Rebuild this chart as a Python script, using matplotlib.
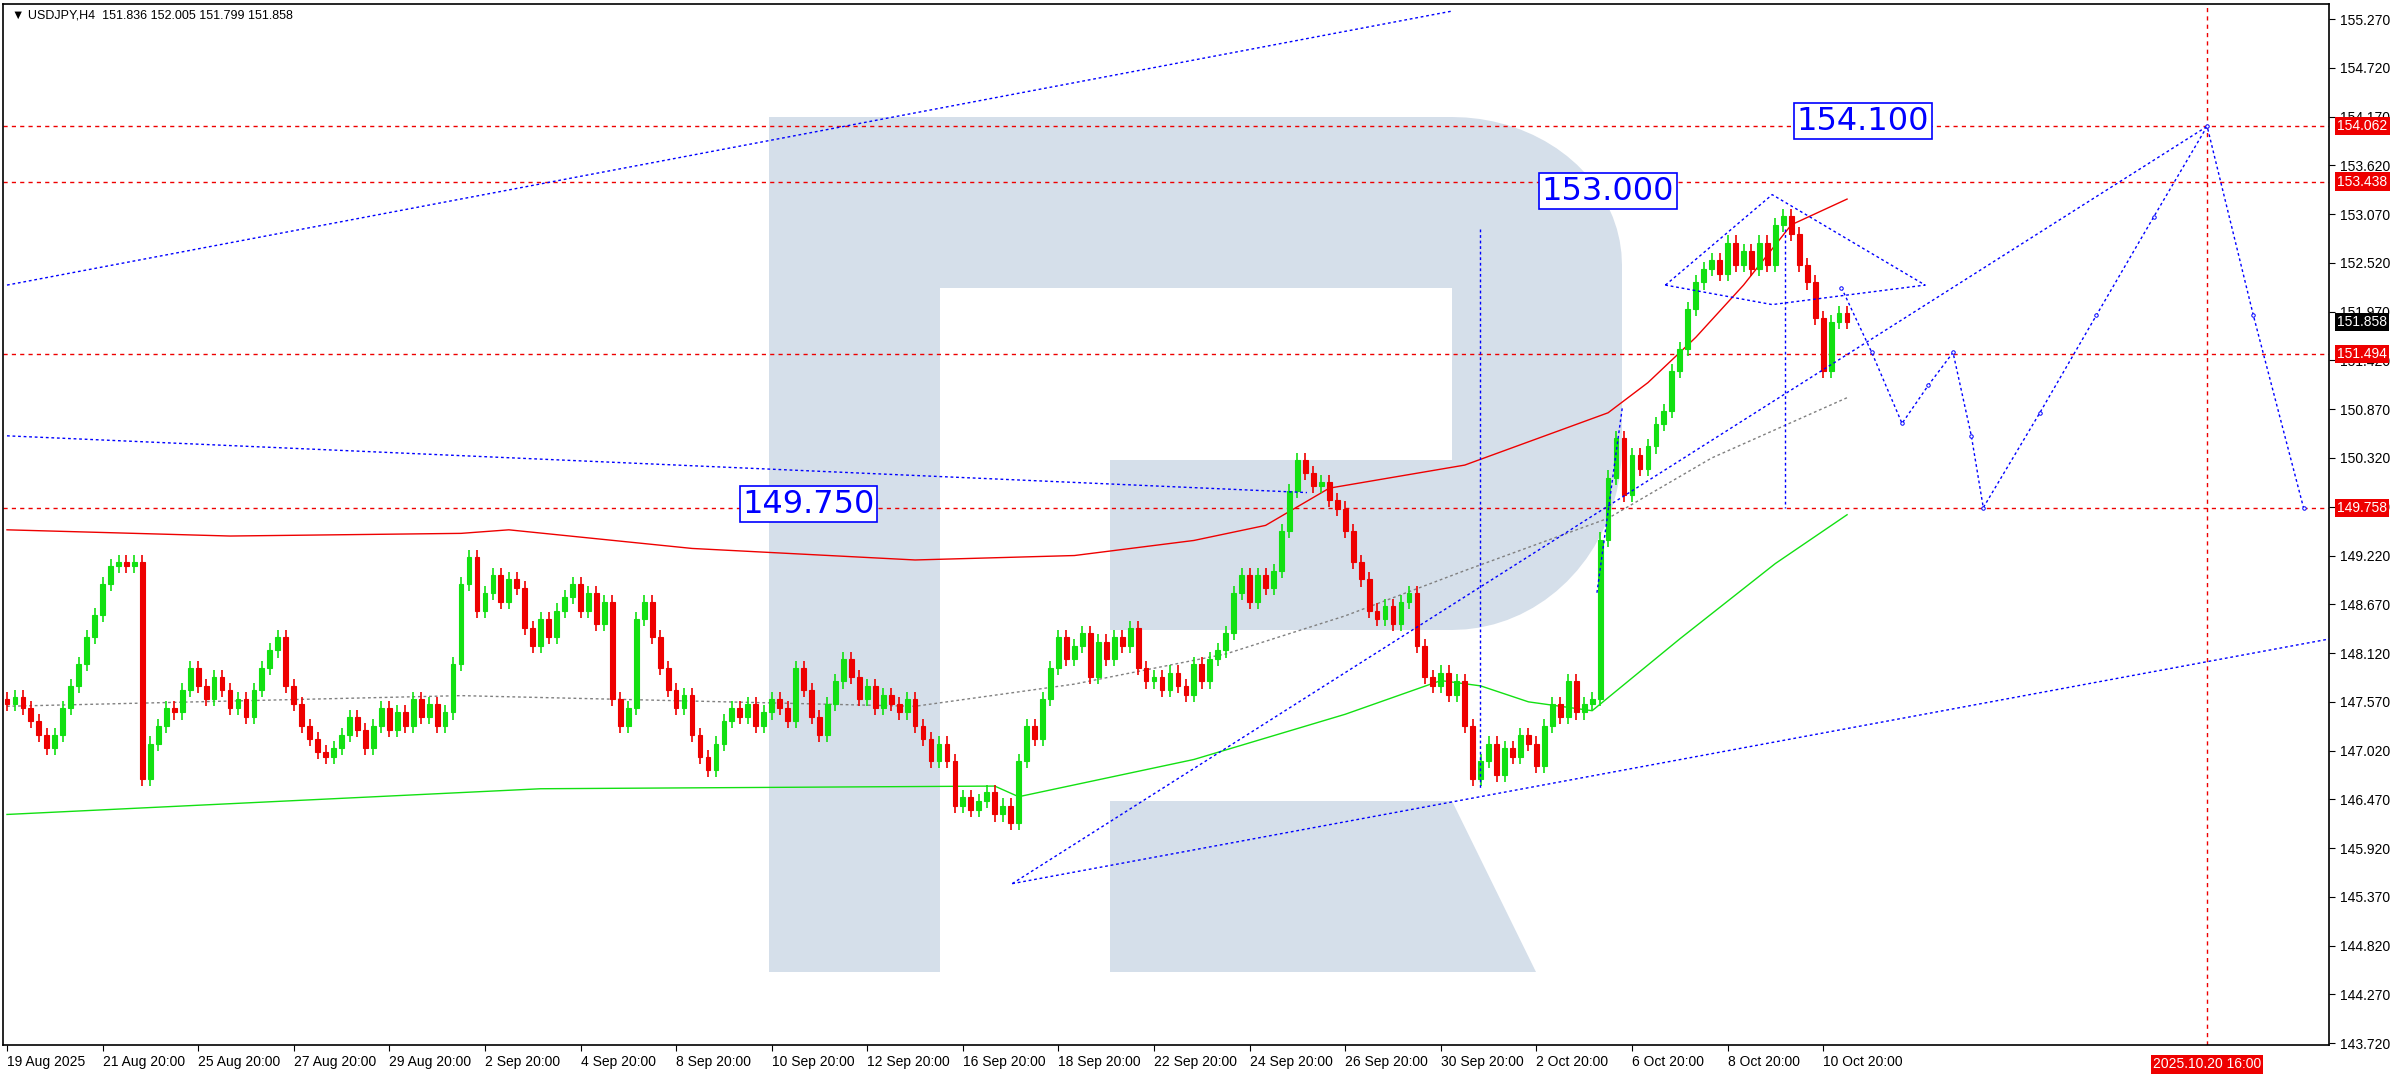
import matplotlib
import numpy as np

matplotlib.use("Agg")

from matplotlib import pyplot as plt
from matplotlib.patches import Polygon, Rectangle

# H4 closes, one per bar
CLOSES = [
    147.55, 147.62, 147.5, 147.35, 147.2, 147.05,
    147.2, 147.5, 147.75, 148.0, 148.3, 148.55,
    148.9, 149.1, 149.15, 149.1, 149.15, 146.7,
    147.1, 147.3, 147.5, 147.45, 147.7,
    147.95, 147.75, 147.6, 147.85, 147.7,
    147.5, 147.6, 147.4, 147.7, 147.95,
    148.15, 148.3, 147.75, 147.55,
    147.3, 147.15, 147.0, 146.95, 147.05,
    147.2, 147.4, 147.25, 147.05, 147.3,
    147.5, 147.25, 147.45, 147.3, 147.6,
    147.4, 147.55, 147.3, 147.45, 148.0,
    148.9, 149.2, 148.6, 148.8, 149.0,
    148.7, 148.95, 148.85, 148.4, 148.2,
    148.5, 148.3, 148.6, 148.75, 148.9,
    148.6, 148.8, 148.45, 148.7, 147.6,
    147.3, 147.5, 148.5, 148.7, 148.3,
    147.95, 147.7, 147.5, 147.65, 147.2,
    146.95, 146.8, 147.1, 147.35, 147.5,
    147.4, 147.55, 147.3, 147.45, 147.6,
    147.5, 147.35, 147.95, 147.7, 147.4,
    147.2, 147.55, 147.8, 148.05, 147.85,
    147.6, 147.75, 147.5, 147.65, 147.55,
    147.45, 147.6, 147.3, 147.15, 146.9,
    147.1, 146.9, 146.4, 146.5, 146.35,
    146.45, 146.55, 146.3, 146.4, 146.2,
    146.9, 147.3, 147.15, 147.6, 147.95,
    148.3, 148.05, 148.2, 148.35, 147.85,
    148.25, 148.05, 148.3, 148.2, 148.4,
    147.95, 147.8, 147.85, 147.7, 147.9,
    147.75, 147.65, 148.0, 147.8, 148.05,
    148.15, 148.35, 148.8, 149.0, 148.7,
    149.0, 148.85, 149.05, 149.5, 149.95,
    150.3, 150.15, 150.0, 150.05, 149.85,
    149.75, 149.5, 149.15, 148.95, 148.6,
    148.5, 148.65, 148.45, 148.7, 148.8,
    148.2, 147.85, 147.75, 147.9, 147.65,
    147.8, 147.3, 146.7, 146.9, 147.1,
    146.75, 147.05, 146.95, 147.2, 147.1,
    146.85, 147.3, 147.55, 147.4, 147.8,
    147.45, 147.55, 147.6, 149.4, 150.1,
    150.55, 149.9, 150.35, 150.2, 150.45,
    150.7, 150.85, 151.3, 151.55, 152.0,
    152.3, 152.45, 152.55, 152.4, 152.75,
    152.5, 152.65, 152.45, 152.75, 152.5,
    152.95, 153.05, 152.85, 152.5, 152.3,
    151.9, 151.3, 151.85, 151.95, 151.858,
]
FIRST_OPEN = 147.6

RED_MA_X = [0, 28, 57, 63, 86, 114, 134, 149, 158, 166, 183, 201, 206, 212, 218, 224, 231]
RED_MA_Y = [149.51, 149.44, 149.47, 149.51, 149.30, 149.17, 149.22, 149.39, 149.56, 149.98,
            150.24, 150.83, 151.17, 151.68, 152.27, 152.95, 153.24]
GREEN_MA_X = [0, 67, 124, 127, 149, 168, 180, 185, 191, 199, 210, 222, 231]
GREEN_MA_Y = [146.30, 146.59, 146.62, 146.50, 146.92, 147.43, 147.81, 147.75, 147.57, 147.47,
              148.28, 149.13, 149.68]
GREY_MA_X = [0, 57, 114, 134, 153, 168, 183, 201, 214, 231]
GREY_MA_Y = [147.52, 147.64, 147.52, 147.77, 148.11, 148.54, 149.05, 149.64, 150.32, 151.0]

LEVELS = [154.062, 153.438, 151.494, 149.758]
LAST_PRICE = 151.858
FORECAST_X = [230.3, 234.1, 237.9, 241.2, 244.3, 246.6, 248.1, 255.2, 262.3, 269.5, 276.2, 282.0, 288.3]
FORECAST_Y = [152.24, 151.51, 150.71, 151.14, 151.51, 150.57, 149.76, 150.83, 151.93, 153.04,
              154.06, 151.93, 149.76]
TARGETS = [(100.6, 149.80, "149.750"), (201.0, 153.33, "153.000"), (233.0, 154.12, "154.100")]

X_LABELS = ["19 Aug 2025", "21 Aug 20:00", "25 Aug 20:00", "27 Aug 20:00", "29 Aug 20:00",
            "2 Sep 20:00", "4 Sep 20:00", "8 Sep 20:00", "10 Sep 20:00", "12 Sep 20:00",
            "16 Sep 20:00", "18 Sep 20:00", "22 Sep 20:00", "24 Sep 20:00", "26 Sep 20:00",
            "30 Sep 20:00", "2 Oct 20:00", "6 Oct 20:00", "8 Oct 20:00", "10 Oct 20:00"]
VLINE_X = 276.2
VLINE_LABEL = "2025.10.20 16:00"

BLUE = "#0000ff"
GREEN = "#12e012"
RED = "#ee0000"
WM = "#d5dfea"
FONT = "Liberation Sans"

plt.rcParams["font.family"] = [FONT, "DejaVu Sans"]
fig = plt.figure(figsize=(23.92, 10.9), dpi=100)
ax = fig.add_axes([3 / 2392, 45 / 1090, 2326 / 2392, 1041 / 1090])
ax.patch.set_alpha(0)


# watermark "R", figure pixel coords from top-left
def fpt(x, y):
    return (x / 2392, 1 - y / 1090)


def wm(points, color):
    fig.patches.append(Polygon([fpt(*p) for p in points], closed=True, transform=fig.transFigure,
                               facecolor=color, edgecolor="none", zorder=-1))


a1 = np.linspace(np.pi / 2, 0, 20)
a2 = np.linspace(0, -np.pi / 2, 20)
arc_top = [(1452 + 170 * np.cos(a), 265 - 148 * np.sin(a)) for a in a1]
arc_bot = [(1452 + 170 * np.cos(a), 446 - 184 * np.sin(a)) for a in a2]
wm([(769, 117)] + arc_top + arc_bot + [(1110, 630), (1110, 460), (940, 460), (940, 972), (769, 972)], WM)
wm([(940, 288), (1452, 288), (1452, 460), (940, 460)], "white")
wm([(1110, 801), (1452, 801), (1536, 972), (1110, 972)], WM)

closes = np.array(CLOSES)
opens = np.concatenate([[FIRST_OPEN], closes[:-1]])
for i, (o, c) in enumerate(zip(opens, closes)):
    col = GREEN if c >= o else RED
    hi = max(o, c) + 0.08
    lo = min(o, c) - 0.08
    ax.vlines(i, lo, hi, color=col, linewidth=1.2, zorder=3)
    ax.add_patch(Rectangle((i - 0.3, min(o, c)), 0.6, max(abs(c - o), 0.01),
                           facecolor=col, edgecolor=col, linewidth=0.8, zorder=3))

ax.plot(RED_MA_X, RED_MA_Y, color=RED, linewidth=1, zorder=2)
ax.plot(GREEN_MA_X, GREEN_MA_Y, color=GREEN, linewidth=1, zorder=2)
ax.plot(GREY_MA_X, GREY_MA_Y, color="#808080", linewidth=1, linestyle=(0, (2, 2)), zorder=2)

for lv in LEVELS:
    ax.axhline(lv, color=RED, linewidth=1, linestyle=(0, (3, 3)), zorder=2)
ax.axvline(VLINE_X, color=RED, linewidth=1, linestyle=(0, (3, 3)), zorder=2)

dot = dict(color=BLUE, linewidth=1, linestyle=(0, (2, 2)), zorder=4)
ax.plot([0, 181.4], [152.27, 155.36], **dot)
ax.plot([0, 163.2], [150.57, 149.93], **dot)
ax.plot([126.2, 291.6], [145.52, 148.28], **dot)
ax.plot([126.2, 276.2], [145.52, 154.06], **dot)
ax.plot([184.9, 184.9], [152.9, 146.59], **dot)
ax.plot([223.2, 223.2], [152.9, 149.76], **dot)
ax.plot([199.6, 202.8], [148.8, 150.9], **dot)
ax.plot([208.2, 221.6, 240.8, 221.6, 208.2], [152.27, 153.29, 152.27, 152.05, 152.27], **dot)
ax.plot(FORECAST_X, FORECAST_Y, **dot)
ax.plot(FORECAST_X, FORECAST_Y, linestyle="none", marker="o", markersize=2.5,
        markerfacecolor="white", markeredgecolor=BLUE, markeredgewidth=0.7, zorder=4)

for x, y, label in TARGETS:
    ax.text(x, y, label, fontsize=23, color=BLUE, ha="center", va="center", zorder=6,
            family=["DejaVu Sans"],
            bbox=dict(boxstyle="square,pad=0.08", facecolor="white", edgecolor=BLUE, linewidth=1.2))

ax.set_xlim(-0.5, 291.5)
ax.set_ylim(143.70, 155.44)

yt = [round(143.72 + 0.55 * k, 3) for k in range(22)]
ax.yaxis.tick_right()
ax.set_yticks(yt)
ax.set_yticklabels([f"{v:.3f}" for v in yt], fontsize=10)
ax.tick_params(axis="y", direction="out", length=4, pad=4)
ax.set_xticks(range(0, 12 * len(X_LABELS), 12))
ax.set_xticklabels(X_LABELS, fontsize=10, ha="left")
ax.tick_params(axis="x", direction="out", length=4, pad=3)

for lv in LEVELS:
    ax.annotate(f"{lv:.3f}", xy=(1, lv), xycoords=("axes fraction", "data"), xytext=(6, 0),
                textcoords="offset points", fontsize=10, color="white", va="center", zorder=7,
                bbox=dict(boxstyle="square,pad=0.15", facecolor=RED, edgecolor="none"))
ax.annotate(f"{LAST_PRICE:.3f}", xy=(1, LAST_PRICE), xycoords=("axes fraction", "data"),
            xytext=(6, 0), textcoords="offset points", fontsize=10, color="white", va="center",
            zorder=7, bbox=dict(boxstyle="square,pad=0.15", facecolor="black", edgecolor="none"))
ax.annotate(VLINE_LABEL, xy=(VLINE_X, 0), xycoords=("data", "axes fraction"), xytext=(0, -14),
            textcoords="offset points", fontsize=10, color="white", ha="center", va="center",
            zorder=7, bbox=dict(boxstyle="square,pad=0.15", facecolor=RED, edgecolor="none"))

for s in ax.spines.values():
    s.set_linewidth(1.2)

ax.text(0.004, 0.995, "\u25bc USDJPY,H4  151.836 152.005 151.799 151.858", transform=ax.transAxes,
        fontsize=9, va="top", ha="left", zorder=8)

fig.savefig("out.png", dpi=100)
